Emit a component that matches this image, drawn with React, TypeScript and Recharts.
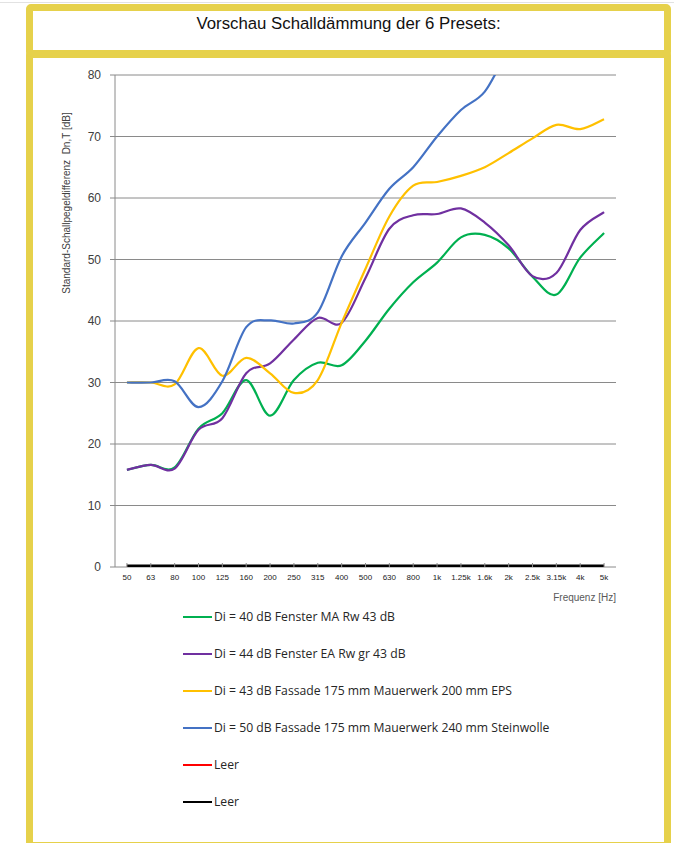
import React from 'react';
import { LineChart, Line, XAxis, YAxis, CartesianGrid, Legend } from 'recharts';

const categories = ['50', '63', '80', '100', '125', '160', '200', '250', '315', '400', '500', '630', '800', '1k', '1.25k', '1.6k', '2k', '2.5k', '3.15k', '4k', '5k'];

const fensterMA = [15.8, 16.6, 16.2, 22.5, 25.0, 30.4, 24.6, 30.4, 33.2, 32.8, 36.8, 42.0, 46.3, 49.5, 53.6, 54.0, 51.8, 47.2, 44.3, 50.3, 54.3];
const fensterEA = [15.8, 16.6, 16.0, 22.3, 24.2, 31.5, 33.1, 37.0, 40.5, 39.7, 47.0, 55.0, 57.2, 57.4, 58.3, 56.0, 52.3, 47.3, 47.8, 54.8, 57.7];
const fassadeEPS = [30.0, 30.0, 29.7, 35.6, 31.1, 34.0, 31.5, 28.3, 30.4, 39.7, 48.5, 57.0, 62.0, 62.6, 63.6, 65.0, 67.3, 69.7, 71.9, 71.2, 72.8];
const fassadeSW = [30.0, 30.0, 30.2, 26.0, 30.2, 39.0, 40.1, 39.6, 41.4, 50.5, 56.0, 61.5, 65.0, 70.0, 74.3, 77.3, 84.0, 88.0, 91.0, 93.0, 95.0];
const leer1 = [0, 0, 0, 0, 0, 0, 0, 0, 0, 0, 0, 0, 0, 0, 0, 0, 0, 0, 0, 0, 0];
const leer2 = [0, 0, 0, 0, 0, 0, 0, 0, 0, 0, 0, 0, 0, 0, 0, 0, 0, 0, 0, 0, 0];

const yTicks = [0, 10, 20, 30, 40, 50, 60, 70, 80];

const seriesNames = [
  'Di = 40 dB Fenster MA Rw 43 dB',
  'Di = 44 dB Fenster EA Rw gr 43 dB',
  'Di = 43 dB Fassade 175 mm Mauerwerk 200 mm EPS',
  'Di = 50 dB Fassade 175 mm Mauerwerk 240 mm Steinwolle',
  'Leer',
  'Leer',
];
const seriesColors = ['#00B050', '#7030A0', '#FFC000', '#4472C4', '#FF0000', '#000000'];
const seriesWidths = [2.2, 2.2, 2.2, 2.2, 4, 5];

const data = categories.map((c, i) => ({
  f: c,
  s0: fensterMA[i],
  s1: fensterEA[i],
  s2: fassadeEPS[i],
  s3: fassadeSW[i],
  s4: leer1[i],
  s5: leer2[i],
}));

// Excel-like smoothed line (Catmull-Rom through the points)
const excelSmooth: any = (context: any) => {
  let pts: [number, number][] = [];
  return {
    areaStart() {},
    areaEnd() {},
    lineStart() {
      pts = [];
    },
    lineEnd() {
      const n = pts.length;
      if (n === 0) return;
      context.moveTo(pts[0][0], pts[0][1]);
      if (n === 1) return;
      const t = 1 / 6;
      for (let i = 0; i < n - 1; i++) {
        const p0 = pts[i === 0 ? 0 : i - 1];
        const p1 = pts[i];
        const p2 = pts[i + 1];
        const p3 = pts[i + 2 < n ? i + 2 : n - 1];
        context.bezierCurveTo(
          p1[0] + (p2[0] - p0[0]) * t,
          p1[1] + (p2[1] - p0[1]) * t,
          p2[0] - (p3[0] - p1[0]) * t,
          p2[1] - (p3[1] - p1[1]) * t,
          p2[0],
          p2[1]
        );
      }
    },
    point(x: number, y: number) {
      pts.push([+x, +y]);
    },
  };
};

const YELLOW = '#E6D14B';

const renderLegend = (props: any) => {
  const payload = [...(props.payload || [])].sort(
    (a: any, b: any) => Number(String(a.dataKey).slice(1)) - Number(String(b.dataKey).slice(1))
  );
  return (
    <div>
      {payload.map((p: any, i: number) => (
        <div key={i} style={{ height: 37, display: 'flex', alignItems: 'center' }}>
          <div style={{ width: 29, height: 2, background: p.color, marginRight: 2 }} />
          <span style={{ fontFamily: '"Open Sans", sans-serif', fontSize: 12.2, color: '#262626', whiteSpace: 'nowrap' }}>
            {p.value}
          </span>
        </div>
      ))}
    </div>
  );
};

const YLabel = (props: any) => {
  const vb = props.viewBox || {};
  const cx = vb.x + 11;
  const cy = vb.y + 128;
  return (
    <text
      x={cx}
      y={cy}
      transform={`rotate(-90, ${cx}, ${cy})`}
      textAnchor="middle"
      dominantBaseline="central"
      fontSize={10}
      fill="#404040"
      fontFamily='"Liberation Sans Narrow", "Arial Narrow", "Liberation Sans", sans-serif'
      style={{ whiteSpace: 'pre' }}
    >
      {'Standard-Schallpegeldifferenz  Dn,T [dB]'}
    </text>
  );
};

const XLabel = (props: any) => {
  const vb = props.viewBox || {};
  return (
    <text
      x={vb.x + vb.width}
      y={vb.y + 34}
      textAnchor="end"
      fontSize={10}
      fill="#595959"
      fontFamily='"Liberation Sans", Arial, sans-serif'
    >
      Frequenz [Hz]
    </text>
  );
};

export default function App() {
  return (
    <div style={{ position: 'absolute', left: 0, top: 0, width: 674, height: 843, overflow: 'hidden', background: '#fff' }}>
      <div style={{ position: 'absolute', left: 0, top: 2, width: 674, height: 1, background: '#e2e2e2' }} />
      <div
        style={{
          position: 'absolute',
          left: 26,
          top: 51,
          width: 645,
          height: 798,
          boxSizing: 'border-box',
          border: `7px solid ${YELLOW}`,
          borderRadius: 4,
        }}
      />
      <div
        style={{
          position: 'absolute',
          left: 26,
          top: 4,
          width: 645,
          height: 53,
          boxSizing: 'border-box',
          border: `7px solid ${YELLOW}`,
          borderRadius: 5,
          background: '#fff',
        }}
      >
        <div
          style={{
            textAlign: 'center',
            fontFamily: '"Liberation Sans", Arial, sans-serif',
            fontSize: 16.8,
            color: '#111',
            lineHeight: '18px',
            paddingTop: 4,
          }}
        >
          Vorschau Schalldämmung der 6 Presets:
        </div>
      </div>
      <div style={{ position: 'absolute', left: 0, top: 0 }}>
        <LineChart width={674} height={843} data={data} margin={{ top: 75, right: 58, bottom: 240, left: 55 }}>
          <CartesianGrid vertical={false} stroke="#8a8a8a" strokeWidth={1} />
          <XAxis
            dataKey="f"
            scale="band"
            height={36}
            interval={0}
            tickSize={-4}
            tickMargin={11}
            tickLine={{ stroke: '#8a8a8a' }}
            axisLine={false}
            tick={{ fontSize: 8, fill: '#1a1a1a', fontFamily: '"Liberation Sans Narrow", "Arial Narrow", sans-serif' }}
            label={<XLabel />}
          />
          <YAxis
            domain={[0, 80]}
            ticks={yTicks}
            allowDataOverflow
            width={60}
            tickSize={5}
            tickMargin={9}
            tickLine={{ stroke: '#8a8a8a' }}
            axisLine={{ stroke: '#8a8a8a' }}
            tick={{ fontSize: 12, fill: '#404040', fontFamily: '"Liberation Sans", Arial, sans-serif' }}
            label={<YLabel />}
          />
          <YAxis
            yAxisId="right"
            orientation="right"
            domain={[0, 80]}
            width={0}
            tick={false}
            tickLine={false}
            axisLine={{ stroke: '#1a1a1a' }}
          />
          {seriesNames.map((n, i) => (
            <Line
              key={i}
              dataKey={`s${i}`}
              name={n}
              type={excelSmooth}
              stroke={seriesColors[i]}
              strokeWidth={seriesWidths[i]}
              dot={false}
              activeDot={false}
              isAnimationActive={false}
            />
          ))}
          <Legend
            layout="vertical"
            align="center"
            verticalAlign="middle"
            content={renderLegend}
            wrapperStyle={{ top: 598, left: 183, width: 460, height: 'auto' }}
          />
        </LineChart>
      </div>
    </div>
  );
}
